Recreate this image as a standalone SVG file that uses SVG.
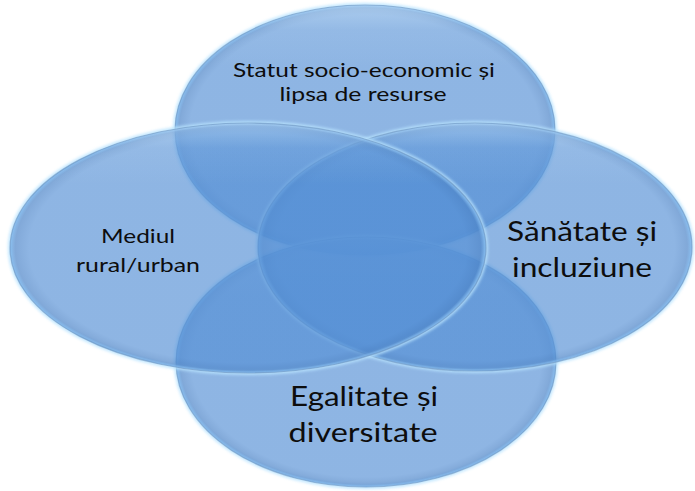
<svg xmlns="http://www.w3.org/2000/svg" width="695" height="491" viewBox="0 0 695 491">
  <style>
    .lbl { font-family: Lato, "Open Sans", "Liberation Sans", sans-serif; fill: #0d0d0d; text-anchor: middle; }
    .sm { font-size: 20px; }
    .lg { font-size: 27px; }
    .glow { fill: none; stroke: #b9e4ff; stroke-width: 4; opacity: 0.9; }
    .body { fill: url(#fillG); }
    .hi { fill: url(#hiG); }
    .rim { fill: none; stroke: #5f86b4; stroke-width: 1.2; stroke-opacity: 0.5; }
  </style>
  <defs>
    <filter id="blur" x="-10%" y="-10%" width="120%" height="120%">
      <feGaussianBlur stdDeviation="1.6"/>
    </filter>
    <radialGradient id="fillG" cx="50%" cy="50%" r="50%">
      <stop offset="0" stop-color="#548fd5" stop-opacity="0.66"/>
      <stop offset="0.92" stop-color="#548fd5" stop-opacity="0.66"/>
      <stop offset="0.978" stop-color="#4c84c8" stop-opacity="0.7"/>
      <stop offset="1" stop-color="#7fb8ee" stop-opacity="0.8"/>
    </radialGradient>
    <linearGradient id="hiG" x1="0" y1="0" x2="0" y2="1">
      <stop offset="0" stop-color="#d8efff" stop-opacity="0.4"/>
      <stop offset="0.1" stop-color="#d8efff" stop-opacity="0.08"/>
      <stop offset="0.25" stop-color="#d8efff" stop-opacity="0"/>
      <stop offset="1" stop-color="#d8efff" stop-opacity="0"/>
    </linearGradient>
  </defs>

  <g id="node-top">
    <ellipse class="glow" cx="365" cy="130" rx="190" ry="125" filter="url(#blur)"/>
    <ellipse class="body" cx="365" cy="130" rx="190" ry="125"/>
    <ellipse class="hi" cx="365" cy="130" rx="190" ry="125"/>
    <ellipse class="rim" cx="365" cy="130" rx="190" ry="125"/>
    <text class="lbl sm" x="364" y="77" textLength="262" lengthAdjust="spacingAndGlyphs">Statut socio-economic și</text>
    <text class="lbl sm" x="363" y="101" textLength="167" lengthAdjust="spacingAndGlyphs">lipsa de resurse</text>
  </g>

  <g id="node-bottom">
    <ellipse class="glow" cx="366" cy="362" rx="190" ry="125" filter="url(#blur)"/>
    <ellipse class="body" cx="366" cy="362" rx="190" ry="125"/>
    <ellipse class="hi" cx="366" cy="362" rx="190" ry="125"/>
    <ellipse class="rim" cx="366" cy="362" rx="190" ry="125"/>
    <text class="lbl lg" x="364" y="406" textLength="148" lengthAdjust="spacingAndGlyphs">Egalitate și</text>
    <text class="lbl lg" x="363" y="442" textLength="149" lengthAdjust="spacingAndGlyphs">diversitate</text>
  </g>

  <g id="node-right">
    <ellipse class="glow" cx="475" cy="247" rx="217" ry="124" filter="url(#blur)"/>
    <ellipse class="body" cx="475" cy="247" rx="217" ry="124"/>
    <ellipse class="hi" cx="475" cy="247" rx="217" ry="124"/>
    <ellipse class="rim" cx="475" cy="247" rx="217" ry="124"/>
    <text class="lbl lg" x="582" y="241" textLength="150" lengthAdjust="spacingAndGlyphs">Sănătate și</text>
    <text class="lbl lg" x="582" y="277" textLength="140" lengthAdjust="spacingAndGlyphs">incluziune</text>
  </g>

  <g id="node-left">
    <ellipse class="glow" cx="248" cy="248" rx="238" ry="125" filter="url(#blur)"/>
    <ellipse class="body" cx="248" cy="248" rx="238" ry="125"/>
    <ellipse class="hi" cx="248" cy="248" rx="238" ry="125"/>
    <ellipse class="rim" cx="248" cy="248" rx="238" ry="125"/>
    <text class="lbl sm" x="138" y="243" textLength="74" lengthAdjust="spacingAndGlyphs">Mediul</text>
    <text class="lbl sm" x="138" y="272" textLength="124" lengthAdjust="spacingAndGlyphs">rural/urban</text>
  </g>
</svg>
